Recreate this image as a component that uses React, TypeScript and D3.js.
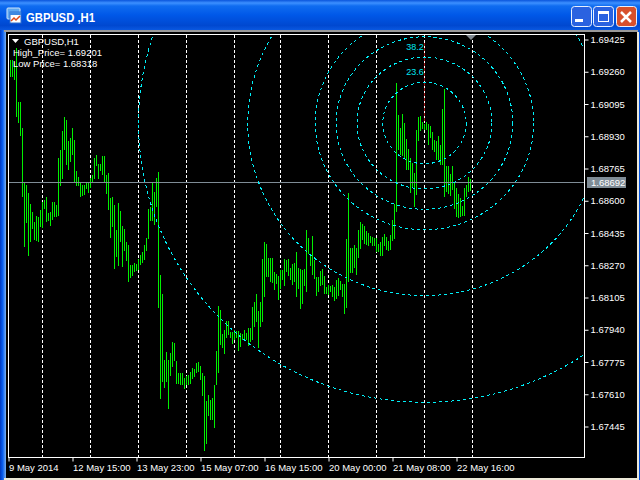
import React, { useEffect, useRef } from "react";
import * as d3 from "d3";

// hourly bars
const highs = [
	1.69317, 1.69317, 1.69307, 1.69379, 1.69103, 1.69103, 1.6897, 1.68689, 1.68679, 1.68638, 1.68582, 1.68541,
	1.6849, 1.6852, 1.68515, 1.68551, 1.68592, 1.68602, 1.68617, 1.68536, 1.68541, 1.68592, 1.68592, 1.68576,
	1.68817, 1.68858, 1.68955, 1.69026, 1.69011, 1.68904, 1.68919, 1.6897, 1.68909, 1.6875, 1.6872, 1.68694,
	1.68679, 1.68679, 1.68689, 1.68689, 1.68714, 1.6873, 1.68817, 1.68832, 1.68786, 1.68786, 1.68827, 1.68827,
	1.6873, 1.6874, 1.68612, 1.68617, 1.68576, 1.68449, 1.68587, 1.68546, 1.68469, 1.68454, 1.68387, 1.68372,
	1.6827, 1.6827, 1.6828, 1.68275, 1.68301, 1.68321, 1.68336, 1.68372, 1.68408, 1.68556, 1.68566, 1.68689,
	1.68643, 1.68714, 1.68745, 1.68219, 1.68122, 1.67784, 1.67825, 1.67784, 1.6782, 1.67876, 1.67871, 1.67779,
	1.67718, 1.67718, 1.67718, 1.67692, 1.67703, 1.67708, 1.67723, 1.67743, 1.67738, 1.67769, 1.67774, 1.67754,
	1.67718, 1.67703, 1.67575, 1.67606, 1.6758, 1.6759, 1.67657, 1.6783, 1.6806, 1.6804, 1.67917, 1.67938,
	1.67984, 1.67984, 1.67928, 1.67928, 1.67938, 1.67933, 1.67933, 1.67922, 1.67917, 1.67938, 1.67922, 1.67948,
	1.67948, 1.68055, 1.68081, 1.68122, 1.68035, 1.68081, 1.68301, 1.68387, 1.68377, 1.68306, 1.68306, 1.68306,
	1.68234, 1.68224, 1.68214, 1.68244, 1.68244, 1.68301, 1.68295, 1.68301, 1.68255, 1.68275, 1.6828, 1.68336,
	1.68255, 1.68249, 1.68244, 1.68249, 1.68449, 1.68408, 1.68326, 1.68418, 1.68295, 1.68209, 1.68209, 1.68239,
	1.68249, 1.68214, 1.68157, 1.68168, 1.68163, 1.68168, 1.68157, 1.68193, 1.68203, 1.68188, 1.68173, 1.68173,
	1.68403, 1.68638, 1.68357, 1.68357, 1.68372, 1.68357, 1.68449, 1.6849, 1.68479, 1.68469, 1.68444, 1.68433,
	1.68418, 1.68413, 1.68408, 1.68408, 1.68377, 1.68387, 1.68413, 1.68428, 1.68413, 1.68392, 1.68423, 1.685,
	1.68582, 1.69201, 1.69036, 1.6897, 1.69041, 1.68995, 1.68914, 1.68863, 1.68817, 1.68791, 1.6874, 1.6896,
	1.69026, 1.69031, 1.69001, 1.6899, 1.69001, 1.6899, 1.6898, 1.68949, 1.68909, 1.68904, 1.68929, 1.68883,
	1.69067, 1.69169, 1.68776, 1.68776, 1.68735, 1.68776, 1.68694, 1.68663, 1.68633, 1.68612, 1.68571, 1.68663,
	1.68679, 1.6872, 1.68709,
];
const lows = [
	1.69231, 1.69231, 1.69215, 1.69026, 1.68995, 1.68929, 1.68617, 1.68362, 1.68484, 1.68316, 1.68387, 1.68454,
	1.68398, 1.68392, 1.68387, 1.68464, 1.68459, 1.68556, 1.6849, 1.68495, 1.68469, 1.685, 1.68515, 1.68515,
	1.6852, 1.68674, 1.68709, 1.68858, 1.68781, 1.68755, 1.68796, 1.68832, 1.68694, 1.68674, 1.68674, 1.68617,
	1.68622, 1.68628, 1.68658, 1.68638, 1.68663, 1.68694, 1.68709, 1.68776, 1.68709, 1.6875, 1.6873, 1.68694,
	1.68633, 1.68551, 1.68408, 1.68464, 1.68249, 1.68311, 1.68265, 1.68387, 1.6826, 1.68341, 1.6829, 1.68183,
	1.68203, 1.68214, 1.68234, 1.68239, 1.68244, 1.6827, 1.6828, 1.68295, 1.68341, 1.68403, 1.68495, 1.68495,
	1.68474, 1.68566, 1.6805, 1.67585, 1.67672, 1.67641, 1.67672, 1.67534, 1.67703, 1.67749, 1.67779, 1.67662,
	1.67662, 1.67657, 1.67657, 1.67636, 1.67657, 1.67657, 1.67662, 1.67687, 1.67698, 1.67718, 1.67723, 1.67682,
	1.676, 1.67319, 1.67355, 1.67498, 1.67478, 1.67478, 1.67437, 1.67657, 1.67718, 1.67861, 1.67846, 1.67815,
	1.67897, 1.67912, 1.67897, 1.67866, 1.67887, 1.67897, 1.6783, 1.67851, 1.67887, 1.67887, 1.67887, 1.67856,
	1.67876, 1.67887, 1.67953, 1.67979, 1.67846, 1.67953, 1.67979, 1.68106, 1.68209, 1.68209, 1.68183, 1.68178,
	1.68142, 1.68173, 1.68091, 1.68147, 1.68193, 1.68163, 1.68234, 1.68214, 1.68193, 1.68168, 1.68183, 1.68106,
	1.68147, 1.68045, 1.68071, 1.68163, 1.68132, 1.68326, 1.68265, 1.68219, 1.68198, 1.68111, 1.68132, 1.68163,
	1.68168, 1.68122, 1.68122, 1.68117, 1.68132, 1.68106, 1.68086, 1.68096, 1.68111, 1.68142, 1.68106, 1.6802,
	1.6805, 1.68183, 1.68229, 1.68229, 1.68255, 1.68219, 1.68306, 1.68352, 1.68398, 1.68377, 1.68372, 1.68367,
	1.68382, 1.68367, 1.68367, 1.68336, 1.68336, 1.68316, 1.68316, 1.68367, 1.68346, 1.68341, 1.68346, 1.68392,
	1.68403, 1.68541, 1.68858, 1.68832, 1.68827, 1.68817, 1.68755, 1.68755, 1.68638, 1.68663, 1.68566, 1.68628,
	1.68904, 1.68955, 1.68965, 1.6896, 1.6896, 1.68883, 1.68919, 1.68858, 1.68847, 1.68806, 1.68806, 1.68781,
	1.68781, 1.68617, 1.68643, 1.68633, 1.68622, 1.68653, 1.68556, 1.68515, 1.6851, 1.68515, 1.6852, 1.6852,
	1.68617, 1.68643, 1.68648,
];

const priceTicks = [
	1.69425, 1.6926, 1.69095, 1.6893, 1.68765, 1.686, 1.68435, 1.6827, 1.68105, 1.6794, 1.67775, 1.6761, 1.67445,
];
const timeTicks = [-1, 31, 63, 95, 127, 159, 191, 223];
const timeLabels = [
	"9 May 2014",
	"12 May 15:00",
	"13 May 23:00",
	"15 May 07:00",
	"16 May 15:00",
	"20 May 00:00",
	"21 May 08:00",
	"22 May 16:00",
];
const gridBars = [16, 40, 64, 88, 112, 135, 159, 183, 207, 231];

const highPrice = 1.69201;
const lowPrice = 1.68318;
const lastPrice = 1.68692;
const arcBar = 207;
const arcPrice = 1.68995;
const arcLevels = [0.236, 0.382, 0.5, 0.618, 1, 1.618];
const arcLabels = ["23.6", "38.2"];
const baselineTop = 1.69404;

const font = "'Liberation Sans', sans-serif";

const App: React.FC = () => {
	const chartRef = useRef<SVGSVGElement | null>(null);

	useEffect(() => {
		if (!chartRef.current) return;

		const svg = d3.select(chartRef.current);
		const frame = { left: 8, right: 584, top: 34, bottom: 457 };

		const xScale = d3.scaleLinear().domain([0, 230]).range([10, 470]);
		const yScale = d3.scaleLinear().domain([1.69425, 1.67445]).range([39, 426]);

		// window chrome
		const defs = svg.append("defs");
		const titleGrad = defs
			.append("linearGradient")
			.attr("id", "title")
			.attr("x1", 0)
			.attr("x2", 0)
			.attr("y1", 0)
			.attr("y2", 1);
		[
			[0, "#0a55dc"],
			[0.1, "#3d90ff"],
			[0.2, "#0f6cf0"],
			[0.5, "#0058e8"],
			[0.85, "#0048d0"],
			[1, "#0a58e0"],
		].forEach((s) => titleGrad.append("stop").attr("offset", s[0]).attr("stop-color", s[1]));
		const sideGrad = defs
			.append("linearGradient")
			.attr("id", "side")
			.attr("x1", 0)
			.attr("x2", 1)
			.attr("y1", 0)
			.attr("y2", 0);
		[
			[0, "#0038c0"],
			[0.45, "#0a60f0"],
			[1, "#7ab0f0"],
		].forEach((s) => sideGrad.append("stop").attr("offset", s[0]).attr("stop-color", s[1]));
		defs.append("clipPath")
			.attr("id", "plot")
			.append("rect")
			.attr("x", frame.left + 1)
			.attr("y", frame.top + 1)
			.attr("width", frame.right - frame.left - 1)
			.attr("height", frame.bottom - frame.top - 1);

		svg.append("rect").attr("width", 640).attr("height", 480).attr("fill", "#0050e0");
		svg.append("rect").attr("width", 640).attr("height", 30).attr("fill", "url(#title)");
		svg.append("rect").attr("y", 30).attr("width", 6).attr("height", 450).attr("fill", "url(#side)");
		svg.append("rect").attr("x", 4).attr("y", 30).attr("width", 634).attr("height", 2).attr("fill", "#9a9a9a");
		svg.append("rect").attr("x", 6).attr("y", 32).attr("width", 631).attr("height", 446).attr("fill", "#000");
		svg.append("rect").attr("x", 637).attr("y", 32).attr("width", 2).attr("height", 448).attr("fill", "#ece9d8");
		svg.append("rect").attr("x", 4).attr("y", 478).attr("width", 635).attr("height", 2).attr("fill", "#ece9d8");

		// title icon
		svg.append("rect").attr("x", 7).attr("y", 8).attr("width", 13).attr("height", 11).attr("rx", 1).attr("fill", "#5fa8f0").attr("stroke", "#cfe4fa");
		svg.append("rect").attr("x", 10).attr("y", 12).attr("width", 11).attr("height", 11).attr("fill", "#fff").attr("stroke", "#2f6fd0");
		svg.append("rect").attr("x", 10).attr("y", 12).attr("width", 11).attr("height", 3).attr("fill", "#3f88e0");
		svg.append("path").attr("d", "M11 21l3-3 2 2 4-4").attr("fill", "none").attr("stroke", "#e04a1a").attr("stroke-width", 1.5);
		svg.append("text")
			.attr("x", 26)
			.attr("y", 22)
			.attr("font-family", font)
			.attr("font-weight", "bold")
			.attr("font-size", 13)
			.attr("textLength", 69)
			.attr("lengthAdjust", "spacingAndGlyphs")
			.attr("fill", "#fff")
			.text("GBPUSD ,H1");

		// window buttons
		const buttons = [
			{ x: 571, fill: "#2a62e0" },
			{ x: 593, fill: "#2a62e0" },
			{ x: 616, fill: "#d8502c" },
		];
		buttons.forEach((b) => {
			svg.append("rect")
				.attr("x", b.x + 0.5)
				.attr("y", 6.5)
				.attr("width", 20)
				.attr("height", 20)
				.attr("rx", 3)
				.attr("fill", b.fill)
				.attr("stroke", "#e8f0ff");
		});
		svg.append("rect").attr("x", 575).attr("y", 19).attr("width", 8).attr("height", 3).attr("fill", "#fff");
		svg.append("rect").attr("x", 598.5).attr("y", 11.5).attr("width", 10).attr("height", 10).attr("fill", "none").attr("stroke", "#fff");
		svg.append("rect").attr("x", 598).attr("y", 11).attr("width", 11).attr("height", 3).attr("fill", "#fff");
		svg.append("path").attr("d", "M621 12l10 10M631 12l-10 10").attr("stroke", "#fff").attr("stroke-width", 2.5);

		// chart frame
		svg.append("rect")
			.attr("x", frame.left + 0.5)
			.attr("y", frame.top + 0.5)
			.attr("width", frame.right - frame.left)
			.attr("height", frame.bottom - frame.top)
			.attr("fill", "none")
			.attr("stroke", "#fff");

		const plot = svg.append("g").attr("clip-path", "url(#plot)");

		// period separators
		plot.selectAll(".grid")
			.data(gridBars)
			.enter()
			.append("line")
			.attr("x1", (d) => xScale(d) + 0.5)
			.attr("x2", (d) => xScale(d) + 0.5)
			.attr("y1", frame.top + 1)
			.attr("y2", frame.bottom)
			.attr("stroke", "#fff")
			.attr("stroke-dasharray", "3 2")
			.attr("shape-rendering", "crispEdges");

		// high-low bars
		plot.selectAll(".bar")
			.data(highs)
			.enter()
			.append("line")
			.attr("x1", (d, i) => xScale(i) + 0.5)
			.attr("x2", (d, i) => xScale(i) + 0.5)
			.attr("y1", (d) => yScale(d))
			.attr("y2", (d, i) => yScale(lows[i]))
			.attr("stroke", "#00f000")
			.attr("shape-rendering", "crispEdges");

		plot.append("line")
			.attr("x1", frame.left)
			.attr("x2", frame.right)
			.attr("y1", Math.round(yScale(lastPrice)) + 0.5)
			.attr("y2", Math.round(yScale(lastPrice)) + 0.5)
			.attr("stroke", "#7f8c96")
			.attr("shape-rendering", "crispEdges");

		// fibonacci arcs
		const range = highPrice - lowPrice;
		const arcY = yScale(arcPrice);
		plot.append("line")
			.attr("x1", xScale(arcBar) + 0.5)
			.attr("x2", xScale(arcBar) + 0.5)
			.attr("y1", yScale(baselineTop))
			.attr("y2", arcY)
			.attr("stroke", "#a01010")
			.attr("stroke-dasharray", "3 2")
			.attr("shape-rendering", "crispEdges");
		plot.selectAll(".arc")
			.data(arcLevels)
			.enter()
			.append("ellipse")
			.attr("cx", xScale(arcBar) + 0.5)
			.attr("cy", arcY)
			.attr("rx", (d) => (yScale(arcPrice - d * range) - arcY) * 1.024)
			.attr("ry", (d) => yScale(arcPrice - d * range) - arcY)
			.attr("fill", "none")
			.attr("stroke", "#00f0f8")
			.attr("stroke-dasharray", "3 3")
			.attr("shape-rendering", "crispEdges");
		plot.selectAll(".arc-label")
			.data(arcLabels)
			.enter()
			.append("text")
			.attr("x", xScale(arcBar) - 9)
			.attr("y", (d, i) => 2 * arcY - yScale(arcPrice - arcLevels[i] * range) - 7)
			.attr("text-anchor", "middle")
			.attr("font-family", font)
			.attr("font-size", 9)
			.attr("fill", "#00e8f0")
			.text((d) => d);

		// price axis
		const yAxis = svg
			.append("g")
			.attr("transform", `translate(${frame.right + 0.5},0.5)`)
			.call(d3.axisRight(yScale).tickValues(priceTicks).tickFormat(d3.format(".5f")).tickSize(4).tickPadding(2));
		yAxis.select(".domain").remove();
		yAxis.selectAll("line").attr("stroke", "#fff");
		yAxis.selectAll("text")
			.attr("fill", "#fff")
			.attr("font-family", font)
			.attr("font-size", 9.5);

		// last price label
		svg.append("rect").attr("x", 587).attr("y", 177).attr("width", 39).attr("height", 11).attr("fill", "#7f8c96");
		svg.append("text")
			.attr("x", 591)
			.attr("y", 186)
			.attr("fill", "#fff")
			.attr("font-family", font)
			.attr("font-size", 9.5)
			.text(lastPrice.toFixed(5));

		// time axis
		const xAxis = svg
			.append("g")
			.attr("transform", `translate(0.5,${frame.bottom + 0.5})`)
			.call(
				d3
					.axisBottom(xScale)
					.tickValues(timeTicks)
					.tickFormat((d, i) => timeLabels[i])
					.tickSize(4)
					.tickPadding(3)
			);
		xAxis.select(".domain").remove();
		xAxis.selectAll("line").attr("stroke", "#fff");
		xAxis.selectAll("text")
			.attr("text-anchor", "start")
			.attr("fill", "#fff")
			.attr("font-family", font)
			.attr("font-size", 9.5);

		// legend
		svg.append("path").attr("d", "M12 39h7l-3.5 4z").attr("fill", "#fff");
		const legend = [
			{ x: 24, y: 45, label: "GBPUSD,H1" },
			{ x: 13, y: 56, label: `High_Price= ${highPrice.toFixed(5)}` },
			{ x: 13, y: 67, label: `Low Price= ${lowPrice.toFixed(5)}` },
		];
		legend.forEach((l) => {
			svg.append("text")
				.attr("x", l.x)
				.attr("y", l.y)
				.attr("fill", "#fff")
				.attr("font-family", font)
				.attr("font-size", 9.5)
				.text(l.label);
		});

		// chart shift marker
		svg.append("path").attr("d", "M466 35h10l-5 5z").attr("fill", "#808890");

		return () => {
			svg.selectAll("*").remove();
		};
	}, []);

	return (
		<svg
			ref={chartRef}
			width={640}
			height={480}
			style={{ position: "fixed", left: 0, top: 0, display: "block" }}
		/>
	);
};

export default App;
